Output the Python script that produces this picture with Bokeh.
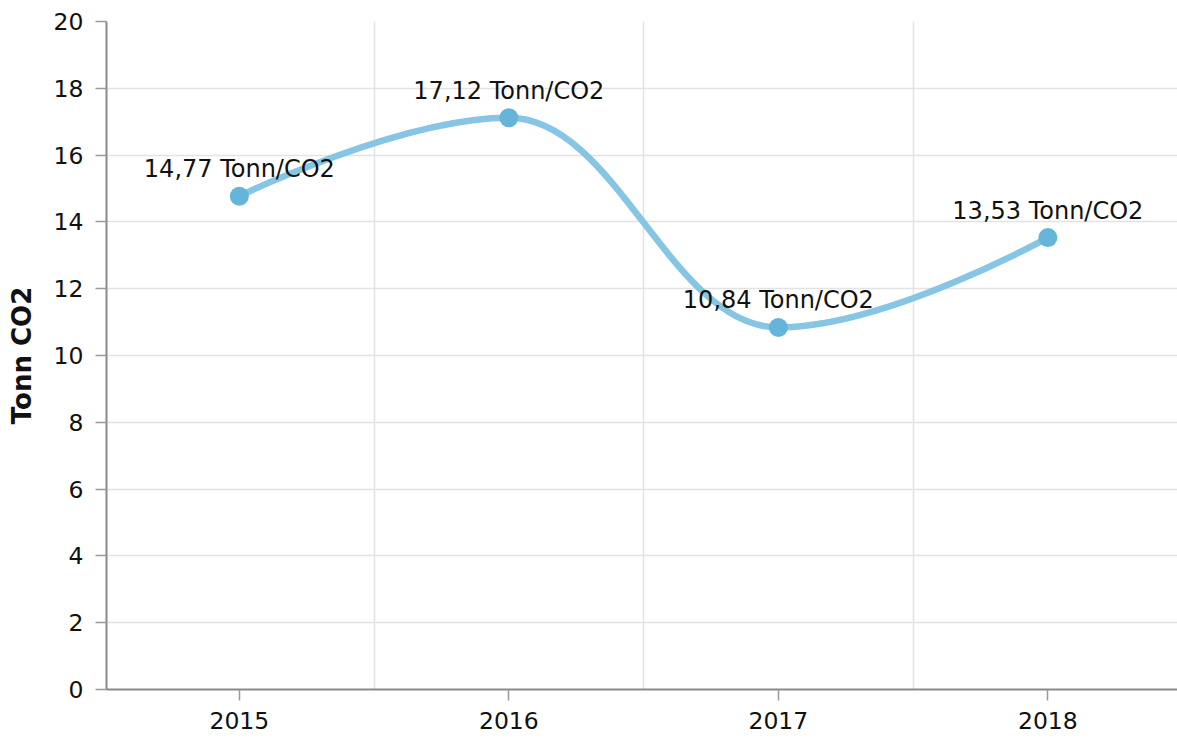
import numpy as np
from bokeh.plotting import figure
from bokeh.models import ColumnDataSource, FixedTicker, Range1d
from bokeh.core.properties import value
from bokeh.embed import file_html
from bokeh.resources import INLINE

years = ["2015", "2016", "2017", "2018"]
co2 = [14.77, 17.12, 10.84, 13.53]
labels = ["14,77 Tonn/CO2", "17,12 Tonn/CO2", "10,84 Tonn/CO2", "13,53 Tonn/CO2"]
y_ticks = [0, 2, 4, 6, 8, 10, 12, 14, 16, 18, 20]

FONT = "DejaVu Sans"
xs = np.arange(1, len(years) + 1, dtype=float)
ys = np.array(co2, dtype=float)

# Highcharts-style spline control points
sm = 1.5
den = sm + 1
n = len(xs)
lcx = xs.copy(); lcy = ys.copy(); rcx = xs.copy(); rcy = ys.copy()
for i in range(1, n - 1):
    px, py = xs[i], ys[i]
    lx, ly = xs[i - 1], ys[i - 1]
    nx, ny = xs[i + 1], ys[i + 1]
    a_x = (sm * px + lx) / den; a_y = (sm * py + ly) / den
    b_x = (sm * px + nx) / den; b_y = (sm * py + ny) / den
    corr = 0.0
    if b_x != a_x:
        corr = (b_y - a_y) * (b_x - px) / (b_x - a_x) + py - b_y
    a_y += corr; b_y += corr
    if a_y > ly and a_y > py:
        a_y = max(ly, py); b_y = 2 * py - a_y
    elif a_y < ly and a_y < py:
        a_y = min(ly, py); b_y = 2 * py - a_y
    if b_y > ny and b_y > py:
        b_y = max(ny, py); a_y = 2 * py - b_y
    elif b_y < ny and b_y < py:
        b_y = min(ny, py); a_y = 2 * py - b_y
    lcx[i], lcy[i], rcx[i], rcy[i] = a_x, a_y, b_x, b_y

seg = ColumnDataSource(dict(
    x0=xs[:-1], y0=ys[:-1], x1=xs[1:], y1=ys[1:],
    cx0=rcx[:-1], cy0=rcy[:-1], cx1=lcx[1:], cy1=lcy[1:],
))
pts = ColumnDataSource(dict(x=xs, y=ys, label=labels))

x0 = 0.507
p = figure(width=1177, height=740, output_backend="svg", toolbar_location=None,
           x_range=Range1d(x0, x0 + 1071 / 269.5), y_range=Range1d(0, 20),
           min_border_left=106, min_border_right=0, min_border_top=21, min_border_bottom=51)
p.outline_line_color = None
p.background_fill_color = "white"

# axes
p.xaxis.ticker = FixedTicker(ticks=list(xs))
p.xaxis.major_label_overrides = {float(x): y for x, y in zip(xs, years)}
p.xaxis.major_label_overrides.update({int(x): y for x, y in zip(xs, years)})
p.yaxis.ticker = FixedTicker(ticks=y_ticks)
for ax in (p.xaxis[0], p.yaxis[0]):
    ax.axis_line_color = "#8a8a8a"
    ax.axis_line_width = 2
    ax.major_tick_line_color = "#9a9a9a"
    ax.major_tick_line_width = 1.5
    ax.major_tick_in = 0
    ax.major_tick_out = 11
    ax.minor_tick_line_color = None
    ax.major_label_text_font = FONT
    ax.major_label_text_font_size = "23.5px"
    ax.major_label_text_color = "#111111"
p.xaxis.major_label_standoff = 11
p.yaxis.major_label_standoff = 12
p.yaxis.axis_label = "Tonn CO2"
p.yaxis.axis_label_text_font = FONT
p.yaxis.axis_label_text_font_style = "bold"
p.yaxis.axis_label_text_font_size = "26px"
p.yaxis.axis_label_text_color = "#111111"
p.yaxis.axis_label_standoff = 14

p.ygrid.grid_line_color = "#e3e3e3"
p.ygrid.grid_line_width = 1.5
p.xgrid.ticker = FixedTicker(ticks=[1.5, 2.5, 3.5])
p.xgrid.grid_line_color = "#e3e3e3"
p.xgrid.grid_line_width = 1.5

p.bezier(x0="x0", y0="y0", x1="x1", y1="y1", cx0="cx0", cy0="cy0", cx1="cx1", cy1="cy1",
         source=seg, line_color="#87c5e4", line_width=6.5)
p.scatter("x", "y", source=pts, size=19, fill_color="#65b4da", line_color=None)
p.text("x", "y", text="label", source=pts, text_align="center", text_baseline="bottom",
       y_offset=-13, text_font=value(FONT), text_font_size="24px", text_color="#111111")

open("out.html", "w").write(file_html(p, INLINE))
